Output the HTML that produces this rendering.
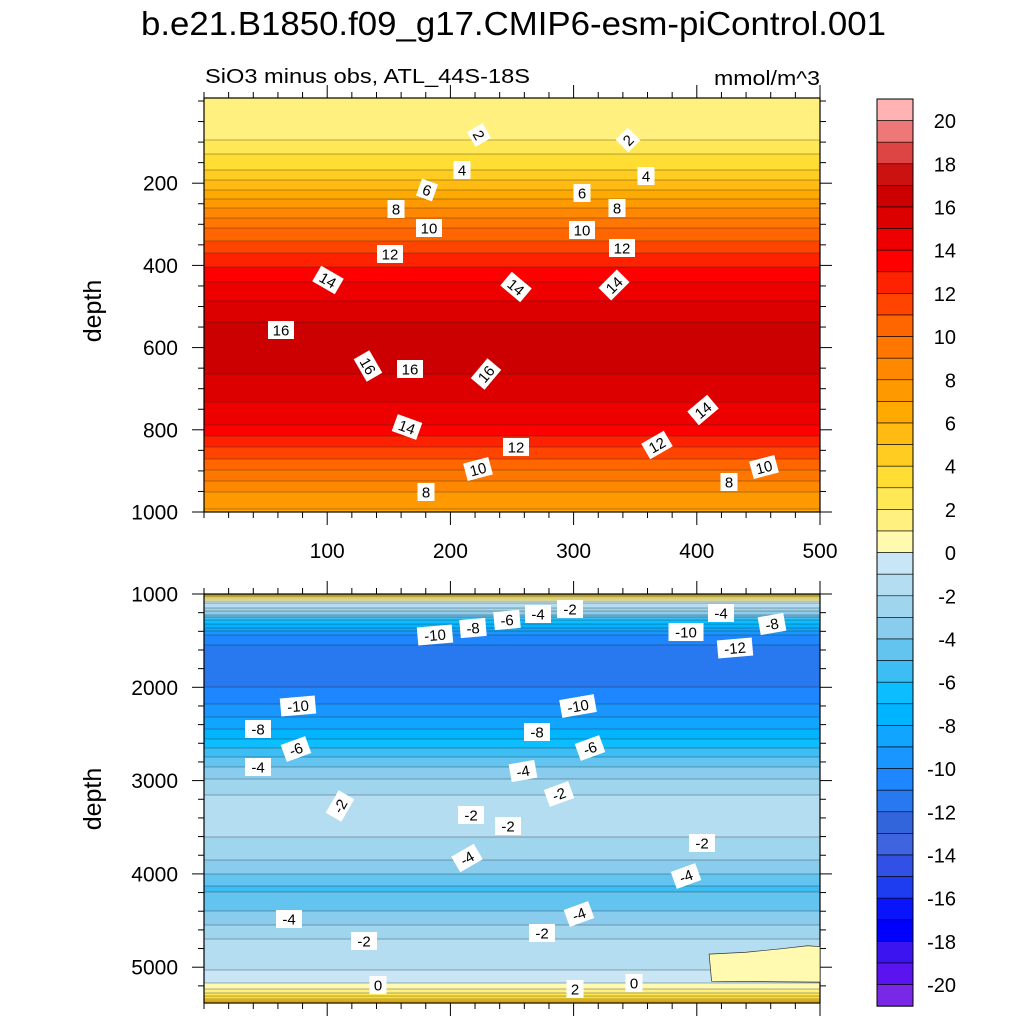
<!DOCTYPE html>
<html><head><meta charset="utf-8">
<style>
html,body{margin:0;padding:0;background:#fff;}
svg{display:block;font-family:"Liberation Sans",sans-serif;}
</style></head>
<body>
<svg id="chart" width="1024" height="1024" viewBox="0 0 1024 1024">
<text x="141" y="35" font-size="33" textLength="745" lengthAdjust="spacingAndGlyphs">b.e21.B1850.f09_g17.CMIP6-esm-piControl.001</text>
<text x="205" y="83" font-size="20" textLength="325" lengthAdjust="spacingAndGlyphs">SiO3 minus obs, ATL_44S-18S</text>
<text x="714" y="85" font-size="20" textLength="106" lengthAdjust="spacingAndGlyphs">mmol/m^3</text>
<text transform="translate(101,311) rotate(-90)" text-anchor="middle" font-size="25">depth</text>
<text transform="translate(101,799) rotate(-90)" text-anchor="middle" font-size="25">depth</text>
<g id="top"></g>
<g id="bot"></g>
<g id="cbar"></g>
</svg>
<script>
// ---- data ----
const topDepths = [0,50,95,130,168,217,261,309,370,440,500,540,600,660,700,750,788,842,898,951,1000];
const topValues = [1.2,1.5,2,3,4,6,8,10,12,14,15.3,16.05,16.2,16.05,15.5,14.7,14,12,10,8,6.8];
const botDepths = [1000,1050,1100,1150,1220,1280,1360,1440,1580,1700,1800,1900,2000,2180,2450,2650,2850,3050,3150,3300,3500,3700,3850,4000,4150,4300,4450,4550,4700,4900,5150,5170,5230,5280,5330,5384];
const botValues = [5,1,-1,-2,-4,-6,-8,-10,-11.3,-11.9,-11.9,-11.6,-11,-10,-8,-6,-4,-2.5,-2,-1.6,-1.7,-2.3,-3,-4,-5.2,-4.5,-3.7,-3,-2,-1.5,-0.5,0.05,1,2,3.5,6];
const patchX = [412,410,440,470,490,500,500];
const patchD = [5150,4860,4840,4800,4770,4780,5160];
const patchValue = 0.5;
const xTicks = [100,200,300,400,500];
const topYTicks = [200,400,600,800,1000];
const botYTicks = [1000,2000,3000,4000,5000];
const cbarLabels = [20,18,16,14,12,10,8,6,4,2,0,-2,-4,-6,-8,-10,-12,-14,-16,-18,-20];
const posColors = ["#FFFAB0","#FFF080","#FFE855","#FFDD33","#FFCC22","#FFBB11","#FFAA00","#FF9900","#FF8800","#FF7700","#FF6600","#FF4400","#FF2200","#FF0000","#EE0000","#DD0000","#CC0000","#CC1111","#DD4444","#EE7777","#FFB3B3"];
const negColors = ["#C8E6F5","#B4DDF2","#A0D5EE","#8ACCEE","#64C4F0","#3CBEF5","#0CBEFF","#00B4FF","#10A5FF","#1996FF","#1E87FF","#2878F0","#3264DC","#4064E0","#3050E6","#1E3CF0","#0A14FA","#0000FF","#3C14F0","#5A14F0","#7828E6"];
const topLabels = [[479,135,"2",60],[628,140,"2",-45],[462,170,"4",0],[646,176,"4",0],[427,190,"6",20],[582,193,"6",0],[396,209,"8",0],[617,208,"8",0],[429,228,"10",0],[582,230,"10",0],[390,254,"12",0],[622,248,"12",0],[328,280,"14",30],[516,287,"14",40],[614,285,"14",-45],[281,330,"16",0],[368,366,"16",60],[410,369,"16",0],[486,374,"16",-50],[407,427,"14",20],[703,410,"14",-40],[516,447,"12",0],[657,445,"12",-30],[478,469,"10",-15],[764,467,"10",-15],[426,492,"8",0],[729,482,"8",0]];
const botLabels = [[570,609,"-2",0],[538,614,"-4",0],[507,620,"-6",-5],[473,628,"-8",-5],[435,635,"-10",-5],[721,613,"-4",0],[772,624,"-8",-10],[686,632,"-10",0],[735,648,"-12",-5],[298,706,"-10",-5],[578,706,"-10",-10],[258,729,"-8",0],[537,732,"-8",0],[296,749,"-6",-20],[590,748,"-6",-20],[258,767,"-4",0],[523,771,"-4",-10],[559,794,"-2",-20],[340,806,"-2",-60],[471,815,"-2",0],[508,826,"-2",0],[702,843,"-2",0],[467,858,"-4",-30],[686,876,"-4",-20],[289,919,"-4",0],[579,914,"-4",-20],[364,941,"-2",0],[542,933,"-2",0],[378,985,"0",0],[575,989,"2",0],[634,983,"0",0]];

// ---- helpers ----
const NS="http://www.w3.org/2000/svg";
function mk(tag,attrs,parent){const e=document.createElementNS(NS,tag);for(const k in attrs)e.setAttribute(k,attrs[k]);parent.appendChild(e);return e;}
const X0=204,X1=820;
function xs(v){return X0+(v)*(X1-X0)/500;}
function colorFor(v){const f=Math.floor(v);if(f>=0)return posColors[Math.min(f,20)];return negColors[Math.min(-f-1,20)];}
function interp(ds,vs,d){if(d<=ds[0])return vs[0];for(let i=1;i<ds.length;i++){if(d<=ds[i]){const t=(d-ds[i-1])/(ds[i]-ds[i-1]);return vs[i-1]+t*(vs[i]-vs[i-1]);}}return vs[vs.length-1];}

function addLabels(g,labels){
  for(const L of labels){
    const gg=mk('g',{transform:`translate(${L[0]},${L[1]}) rotate(${L[3]})`},g);
    
    
    const w=L[2].length*9+8;
    mk('rect',{x:-w/2,y:-9,width:w,height:18,fill:'#fff'},gg);
    const t=mk('text',{x:0,y:5.5,'text-anchor':'middle','font-size':15},gg);t.textContent=L[2];
  }
}
function panel(g,ds,vs,yTop,yBot,dOf,yOf,yTicks,minorStep,dMin,dMax,xLabels){
  let prev=null;
  for(let y=yTop;y<yBot;y++){
    const v=interp(ds,vs,dOf(y+0.5));
    const r=mk('rect',{x:X0,y:y,width:X1-X0,height:1.2,fill:colorFor(v)},g);
    
    
    if(prev!==null&&Math.floor(prev)!==Math.floor(v)){
      const l=mk('line',{x1:X0,x2:X1,y1:y,y2:y,stroke:'#222','stroke-width':0.6,'stroke-opacity':0.7},g);
      
      
    }
    prev=v;
  }
  mk('rect',{x:X0,y:yTop,width:X1-X0,height:yBot-yTop,fill:'none',stroke:'#000','stroke-width':1.2},g);
  for(let d=dMin;d<=dMax+0.1;d+=minorStep){
    const y=yOf(d); if(y<yTop-0.5||y>yBot+0.5)continue;
    const maj=yTicks.includes(d);
    const len=maj?12:6;
    mk('line',{x1:X0-len,x2:X0,y1:y,y2:y,stroke:'#000','stroke-width':1},g);
    mk('line',{x1:X1,x2:X1+len,y1:y,y2:y,stroke:'#000','stroke-width':1},g);
    if(maj){const t=mk('text',{x:X0-26,y:y+7.5,'text-anchor':'end','font-size':21},g);t.textContent=d;
      
      }
  }
  for(let xv=0;xv<=500;xv+=20){
    const x=xs(xv);const maj=xTicks.includes(xv);const len=maj?13:6;
    mk('line',{x1:x,x2:x,y1:yTop-len,y2:yTop,stroke:'#000','stroke-width':1},g);
    mk('line',{x1:x,x2:x,y1:yBot,y2:yBot+len,stroke:'#000','stroke-width':1},g);
    if(maj&&xLabels){const t=mk('text',{x:x,y:yBot+46,'text-anchor':'middle','font-size':21},g);t.textContent=xv;
      
      }
  }
}
// top panel
const tTop=98,tBot=512;
function tY(d){return 512-(1000-d)*0.411;}
function tD(y){return 1000-(512-y)/0.411;}
const tg=document.getElementById('top');
panel(tg,topDepths,topValues,tTop,tBot,tD,tY,topYTicks,50,0,1000,true);
addLabels(tg,topLabels);
// bottom panel
const bTop=594,bBot=1003;
function bY(d){return 594+(d-1000)*0.0933;}
function bD(y){return 1000+(y-594)/0.0933;}
const bg=document.getElementById('bot');
panel(bg,botDepths,botValues,bTop,bBot,bD,bY,botYTicks,200,1000,5400,false);
const pts=patchX.map((x,i)=>xs(x)+','+bY(patchD[i])).join(' ');
const poly=mk('polygon',{points:pts,fill:colorFor(patchValue),stroke:'#333','stroke-width':0.7},bg);


addLabels(bg,botLabels);
// colorbar
const cb=document.getElementById('cbar');
const CX=877,CW=36,CT=99,BH=21.6;
for(let i=0;i<42;i++){
  const v=20.5-i;
  const r=mk('rect',{x:CX,y:CT+i*BH,width:CW,height:BH,fill:colorFor(v),stroke:'#000','stroke-width':0.6},cb);
  
  
}
mk('rect',{x:CX,y:CT,width:CW,height:42*BH,fill:'none',stroke:'#000','stroke-width':1},cb);
for(const v of cbarLabels){
  const t=mk('text',{x:956,y:CT+(21-v)*BH+7.5,'text-anchor':'end','font-size':20},cb);t.textContent=v;
  
  
}
</script>
</body></html>
